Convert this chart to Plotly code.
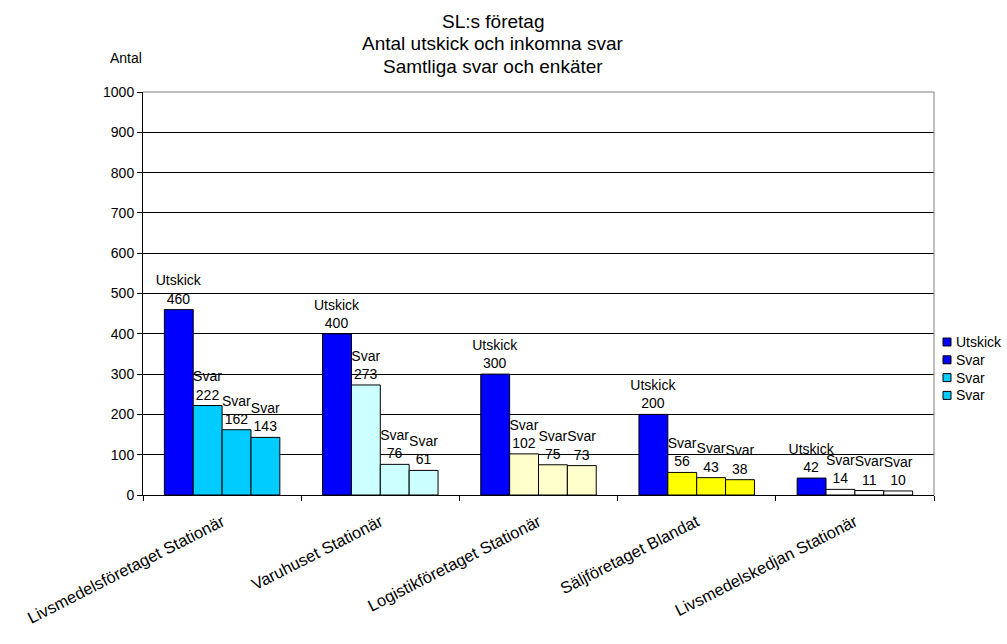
import plotly.graph_objects as go

# Företag (kategorier)
categories = [
    "Livsmedelsföretaget Stationär",
    "Varuhuset Stationär",
    "Logistikföretaget Stationär",
    "Säljföretaget Blandat",
    "Livsmedelskedjan Stationär",
]

# Antal utskick och inkomna svar per företag
utskick = [460, 400, 300, 200, 42]
svar_1 = [222, 273, 102, 56, 14]
svar_2 = [162, 76, 75, 43, 11]
svar_3 = [143, 61, 73, 38, 10]

utskick_color = "#0000FF"
svar_colors = ["#00CCFF", "#CCFFFF", "#FFFFCC", "#FFFF00", "#FFFFFF"]

legend_names = ["Utskick", "Svar", "Svar", "Svar"]
legend_colors = ["#0000FF", "#0000FF", "#00CCFF", "#00CCFF"]

title_lines = ["SL:s företag", "Antal utskick och inkomna svar", "Samtliga svar och enkäter"]

y_ticks = list(range(0, 1001, 100))

FONT = "Liberation Sans, Arial, sans-serif"

W, H = 1007, 644
L, R, T, B = 143, 73, 92, 149
PW, PH = W - L - R, H - T - B


def px_x(px):
    """Pixel x -> paper x."""
    return (px - L) / PW


def px_y(py):
    """Pixel y (from top) -> paper y."""
    return (H - B - py) / PH


fig = go.Figure()

series = [
    ("Utskick", utskick, [utskick_color] * len(categories)),
    ("Svar", svar_1, svar_colors),
    ("Svar", svar_2, svar_colors),
    ("Svar", svar_3, svar_colors),
]

for name, values, colors in series:
    fig.add_trace(go.Bar(
        x=categories,
        y=values,
        name=name,
        marker=dict(color=colors, line=dict(color="#000000", width=1)),
        text=[f"{name}<br>{v}" for v in values],
        textposition="outside",
        textfont=dict(family=FONT, size=14, color="#000000"),
        constraintext="none",
        cliponaxis=False,
        showlegend=False,
        hoverinfo="x+y+name",
    ))

shapes = [
    # grå ram upptill och till höger
    dict(type="line", xref="paper", yref="paper", x0=0, x1=1, y0=1, y1=1,
         line=dict(color="#808080", width=1), layer="above"),
    dict(type="line", xref="paper", yref="paper", x0=1, x1=1, y0=0, y1=1,
         line=dict(color="#808080", width=1), layer="above"),
]
annotations = [
    dict(text="Antal", xref="paper", yref="paper",
         x=px_x(126), y=px_y(58), xanchor="center", yanchor="middle",
         showarrow=False, font=dict(family=FONT, size=14, color="#000000")),
]

# Rubrik, en rad per annotering
for line, cy in zip(title_lines, [21.5, 44, 67]):
    annotations.append(dict(
        text=line, xref="paper", yref="paper", x=px_x(493), y=px_y(cy),
        xanchor="center", yanchor="middle", showarrow=False,
        font=dict(family=FONT, size=19, color="#000000"),
    ))

# Förklaring: färgrutor med text
for i, (name, color) in enumerate(zip(legend_names, legend_colors)):
    cy = 342 + i * 17.8
    shapes.append(dict(
        type="rect", xref="paper", yref="paper",
        x0=px_x(943), x1=px_x(951), y0=px_y(cy - 4), y1=px_y(cy + 4),
        fillcolor=color, line=dict(color="#000000", width=1), layer="above",
    ))
    annotations.append(dict(
        text=name, xref="paper", yref="paper", x=px_x(954), y=px_y(cy),
        xanchor="left", yanchor="middle", showarrow=False,
        font=dict(family=FONT, size=14, color="#000000"),
    ))

fig.update_layout(
    width=W,
    height=H,
    margin=dict(l=L, r=R, t=T, b=B, pad=0, autoexpand=False),
    paper_bgcolor="#FFFFFF",
    plot_bgcolor="#FFFFFF",
    font=dict(family=FONT, size=14, color="#000000"),
    barmode="group",
    bargap=0.27,
    bargroupgap=0,
    showlegend=False,
    xaxis=dict(
        type="category",
        tickson="boundaries",
        ticks="outside",
        ticklen=5,
        tickcolor="#000000",
        tickangle=-27,
        ticklabelstandoff=10,
        showline=True,
        linecolor="#000000",
        linewidth=1,
        showgrid=False,
        tickfont=dict(family=FONT, size=16.5, color="#000000"),
    ),
    yaxis=dict(
        range=[0, 1000],
        tickvals=y_ticks,
        ticks="outside",
        ticklen=5,
        tickcolor="#000000",
        showline=True,
        linecolor="#000000",
        linewidth=1,
        showgrid=True,
        gridcolor="#000000",
        gridwidth=1,
        zeroline=False,
        tickfont=dict(family=FONT, size=14, color="#000000"),
    ),
    shapes=shapes,
    annotations=annotations,
)

fig.write_html("out.html")
